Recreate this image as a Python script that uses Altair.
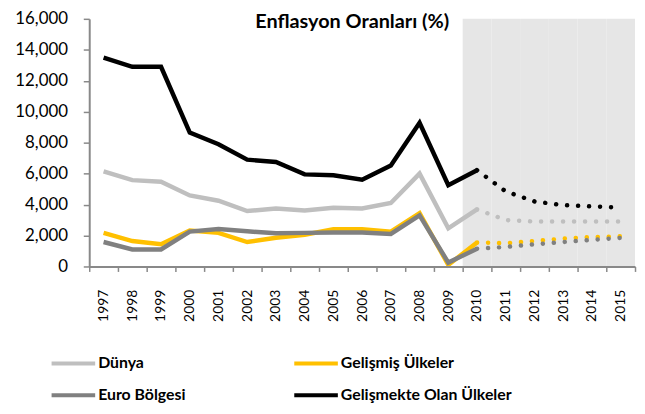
import altair as alt
import pandas as pd

years = [str(y) for y in range(1997, 2016)]
series_names = ["Dünya", "Gelişmiş Ülkeler", "Euro Bölgesi", "Gelişmekte Olan Ülkeler"]
series_colors = ["#bfbfbf", "#ffc000", "#808080", "#000000"]
# legend fills column by column: this order puts Dünya/Gelişmiş on row 1
legend_order = ["Dünya", "Euro Bölgesi", "Gelişmiş Ülkeler", "Gelişmekte Olan Ülkeler"]
legend_colors = ["#bfbfbf", "#808080", "#ffc000", "#000000"]

dunya = [6150, 5580, 5470, 4590, 4250, 3580, 3750, 3620, 3790, 3750, 4100, 6000, 2460, 3690, 3000, 2900, 2900, 2900, 2900]
gelismis = [2170, 1640, 1430, 2320, 2170, 1580, 1860, 2050, 2400, 2400, 2250, 3450, 100, 1550, 1500, 1650, 1800, 1900, 1950]
euro = [1580, 1100, 1100, 2250, 2420, 2270, 2150, 2170, 2200, 2200, 2100, 3300, 250, 1150, 1260, 1430, 1580, 1720, 1850]
gelismekte = [13500, 12900, 12900, 8650, 7900, 6900, 6750, 5950, 5890, 5600, 6530, 9280, 5250, 6220, 4850, 4200, 3960, 3880, 3800]

forecast_from = 2010
y_ticks = list(range(0, 16001, 2000))

rows = []
for name, vals in zip(series_names, [dunya, gelismis, euro, gelismekte]):
    for yr, v in zip(years, vals):
        rows.append({"year": yr, "series": name, "value": v})
df = pd.DataFrame(rows)
actual = df[df["year"].astype(int) <= forecast_from]
forecast = df[df["year"].astype(int) >= forecast_from]
shade = pd.DataFrame({"year": [y for y in years if int(y) >= forecast_from]})

FONT = "Lato"
AX = "#898989"

x_scale = alt.Scale(type="band", domain=years, paddingInner=0, paddingOuter=0)
x_axis = alt.Axis(title=None, labelAngle=270, labelAlign="right", labelBaseline="middle",
                  labelPadding=18, tickSize=5, tickBand="extent", domainColor=AX, domainWidth=2,
                  tickColor=AX, tickWidth=1.5, labelFont=FONT, labelFontSize=14, labelColor="black",
                  grid=False)
y_scale = alt.Scale(domain=[0, 16000], nice=False)
y_axis = alt.Axis(title=None, values=y_ticks, format=",d", tickSize=6, labelPadding=16,
                  domainColor=AX, domainWidth=2, tickColor=AX, tickWidth=1.5,
                  labelFont=FONT, labelFontSize=17, labelColor="black", grid=False)
color_scale = alt.Scale(domain=legend_order, range=legend_colors)

bg = alt.Chart(shade).mark_rect(color="#e6e6e6").encode(
    x=alt.X("year:O", scale=x_scale, axis=x_axis)
)

solid = alt.Chart(actual).mark_line(strokeWidth=4.5, strokeJoin="miter").encode(
    x=alt.X("year:O", scale=x_scale, axis=x_axis, bandPosition=0.5),
    y=alt.Y("value:Q", scale=y_scale, axis=y_axis),
    color=alt.Color("series:N", scale=color_scale,
                    legend=alt.Legend(title=None, orient="none", legendX=-40, legendY=324,
                                      columns=2, symbolType="stroke", symbolSize=1936,
                                      symbolStrokeWidth=4, labelFont=FONT, labelFontSize=16,
                                      labelFontWeight="bold", labelColor="black", labelLimit=300,
                                      columnPadding=101, rowPadding=-8, labelOffset=1)),
)

dotted = alt.Chart(forecast).mark_line(strokeWidth=4.5, strokeDash=[0.1, 11], strokeCap="round").encode(
    x=alt.X("year:O", scale=x_scale, axis=x_axis, bandPosition=0.5),
    y=alt.Y("value:Q", scale=y_scale, axis=y_axis),
    color=alt.Color("series:N", scale=color_scale, legend=None),
)

chart = alt.layer(bg, solid, dotted).properties(
    width=551, height=250,
    padding={"left": 82, "top": 9, "right": 2, "bottom": 147},
    autosize=alt.AutoSizeParams(type="none"),
    title=alt.TitleParams("Enflasyon Oranları (%)", font=FONT, fontSize=20, fontWeight="bold",
                          color="black", anchor="middle", dx=-10, dy=26),
).configure_view(stroke=None)

chart.save("out.html", embed_options={"renderer": "svg", "actions": False})
